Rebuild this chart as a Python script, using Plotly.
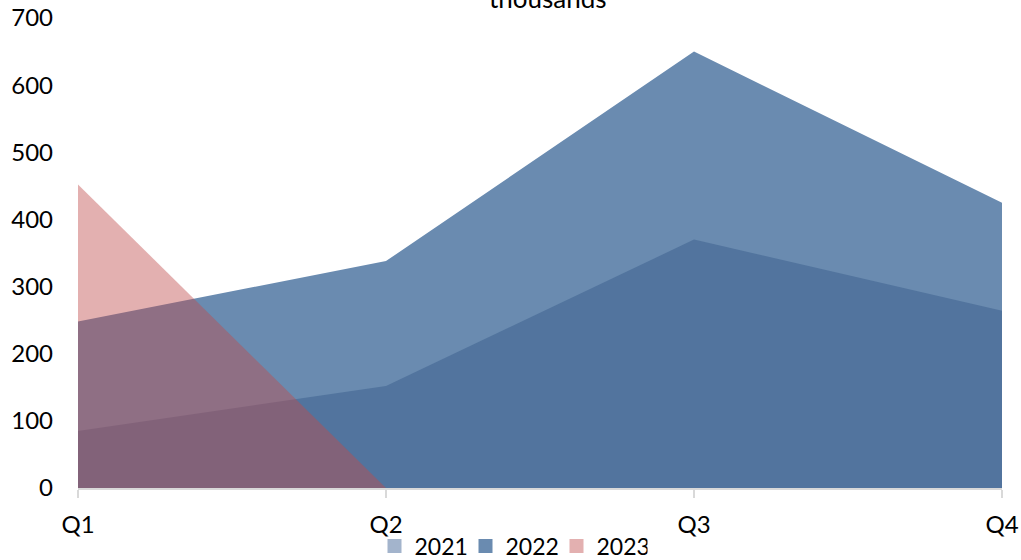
import plotly.graph_objects as go

quarters = ["Q1", "Q2", "Q3", "Q4"]
values_2021 = [85, 152, 370, 264]
values_2022 = [248, 338, 650, 425]
values_2023 = [452, 0, None, None]

series_names = ["2021", "2022", "2023"]
legend_colors = ["#a3b4cc", "#6a8bb0", "#e3b0b0"]

FONT = "Lato"
x_pos = list(range(len(quarters)))

fig = go.Figure()

# 2022 drawn first as an opaque area, 2021 laid over it, 2023 translucent on top
fig.add_trace(go.Scatter(
    x=x_pos, y=values_2022, mode="lines", fill="tozeroy",
    line=dict(width=0), fillcolor="rgb(106,139,176)",
    showlegend=False, hoverinfo="skip"))
fig.add_trace(go.Scatter(
    x=x_pos, y=values_2021, mode="lines", fill="tozeroy",
    line=dict(width=0), fillcolor="rgba(58,93,140,0.5)",
    showlegend=False, hoverinfo="skip"))
fig.add_trace(go.Scatter(
    x=x_pos, y=values_2023, mode="lines", fill="tozeroy",
    line=dict(width=0), fillcolor="rgba(191,75,75,0.44)",
    showlegend=False, hoverinfo="skip"))

# square legend swatches
for name, color in zip(series_names, legend_colors):
    fig.add_trace(go.Scatter(
        x=[None], y=[None], mode="markers", name=name,
        marker=dict(symbol="square", size=14, color=color)))

fig.add_annotation(
    text="thousands", xref="paper", yref="paper",
    x=(548 - 78) / 924, y=1 + 20 / 470,
    xanchor="center", yanchor="middle", showarrow=False,
    font=dict(family=FONT, size=26, color="#000000"))

fig.update_layout(
    width=1021, height=560,
    margin=dict(l=78, r=19, t=18, b=72, autoexpand=False),
    paper_bgcolor="white", plot_bgcolor="white",
    font=dict(family=FONT, size=24, color="#000000"),
    showlegend=True,
    legend=dict(orientation="h", x=(511 - 78) / 924, y=-58 / 470,
                xanchor="center", yanchor="middle",
                bgcolor="rgba(0,0,0,0)",
                font=dict(family=FONT, size=23),
                itemwidth=30, tracegroupgap=0,
                entrywidth=46, entrywidthmode="pixels"),
    hovermode=False,
)

fig.update_xaxes(
    range=[0, 3], tickmode="array", tickvals=x_pos, ticktext=quarters,
    showgrid=False, zeroline=False, automargin=False,
    showline=True, linecolor="#d9d9d9", linewidth=1.5,
    ticks="outside", ticklen=8, tickcolor="#d9d9d9", tickwidth=1.5,
    ticklabelstandoff=6)
fig.update_yaxes(
    range=[0, 700], tickvals=[0, 100, 200, 300, 400, 500, 600, 700],
    showgrid=False, zeroline=False, showline=False, automargin=False,
    ticks="", ticklabelstandoff=24)

fig.write_html("out.html")
